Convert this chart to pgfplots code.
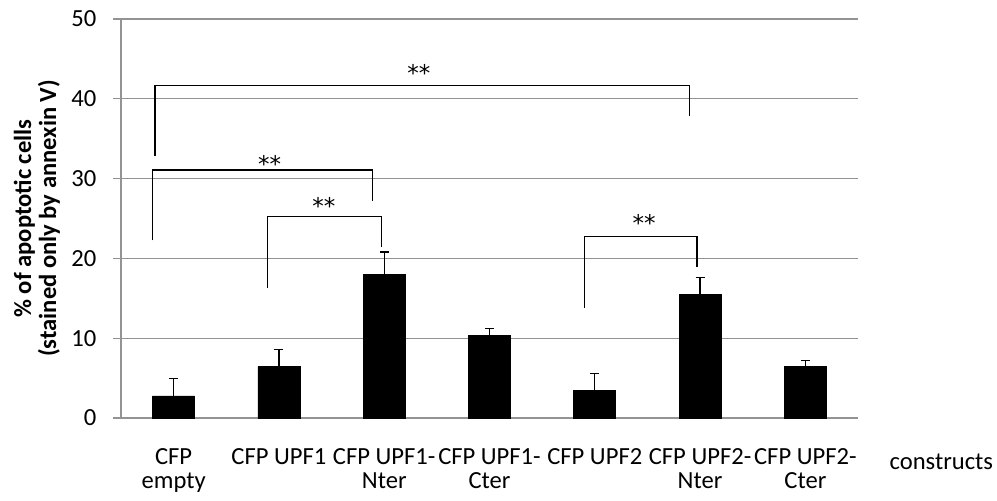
\documentclass[border=0pt]{standalone}
\usepackage{pgfplots}
\pgfplotsset{compat=1.18}
\usepackage{fontspec}
\setmainfont{Carlito}
\newfontfamily\starfont{DejaVu Sans}
\begin{document}
\fontsize{12.3}{12}\selectfont
\begin{tikzpicture}
\useasboundingbox (-60.5pt,-41pt) rectangle (438pt,209pt);
\begin{axis}[
  at={(0,0)}, anchor=south west,
  width=368.5pt, height=199.5pt, scale only axis,
  xmin=-0.5, xmax=6.5, ymin=0, ymax=50,
  ytick={0,10,...,50}, xtick={0,...,6},
  xticklabels={{CFP\\empty},{CFP UPF1},{CFP UPF1-\\Nter},{CFP UPF1-\\Cter},{CFP UPF2},{CFP UPF2-\\Nter},{CFP UPF2-\\Cter}},
  xticklabel style={align=center, font=\fontsize{12.3}{12}\selectfont, anchor=north, yshift=-7pt},
  yticklabel style={font=\fontsize{12.3}{12}\selectfont, xshift=-4pt},
  /pgf/number format/assume math mode=true,
  axis lines*=left,
  axis line style={draw=gray!85, line width=0.6pt},
  ymajorgrids, grid style={draw=gray!85, line width=0.6pt},
  xtick style={draw=none},
  ytick style={draw=gray!85, line width=0.6pt},
  tick align=outside, major tick length=4pt,
  xlabel={constructs},
  xlabel style={at={(axis description cs:1,0)}, anchor=west, xshift=11.5pt, yshift=-22pt, font=\fontsize{12.3}{12}\selectfont},
]
\addplot[ybar, bar width=21pt, fill=black, draw=black,
  error bars/.cd, y dir=plus, y explicit,
  error bar style={black, line width=0.6pt},
  error mark options={rotate=90, mark size=2.25pt, line width=0.6pt}]
  table[x=x, y=y, y error=e] {
x y e
0 2.76 2.17
1 6.44 2.16
2 17.98 2.82
3 10.40 0.77
4 3.43 2.13
5 15.43 2.17
6 6.44 0.80
};
\addplot[black, line width=0.7pt, sharp plot, mark=none] coordinates {(-0.177,32.8) (-0.177,41.66) (4.897,41.66) (4.897,37.8)};
\addplot[black, line width=0.7pt, sharp plot, mark=none] coordinates {(-0.199,22.25) (-0.199,31.1) (1.89,31.1) (1.89,27.2)};
\addplot[black, line width=0.7pt, sharp plot, mark=none] coordinates {(0.893,16.35) (0.893,25.26) (1.976,25.26) (1.976,21.4)};
\addplot[black, line width=0.7pt, sharp plot, mark=none] coordinates {(3.9,13.84) (3.9,22.75) (4.97,22.75) (4.97,18.98)};
\node[font=\starfont\fontsize{11.5}{11.5}\selectfont] at (axis cs:2.33,43.2) {**};
\node[font=\starfont\fontsize{11.5}{11.5}\selectfont] at (axis cs:0.912,31.87) {**};
\node[font=\starfont\fontsize{11.5}{11.5}\selectfont] at (axis cs:1.426,26.55) {**};
\node[font=\starfont\fontsize{11.5}{11.5}\selectfont] at (axis cs:4.468,24.42) {**};
\end{axis}
\node[rotate=90, align=center, font=\bfseries\fontsize{12.3}{12.5}\selectfont] at (-42pt,99.75pt) {\% of apoptotic cells\\(stained only by annexin V)};
\end{tikzpicture}
\end{document}
